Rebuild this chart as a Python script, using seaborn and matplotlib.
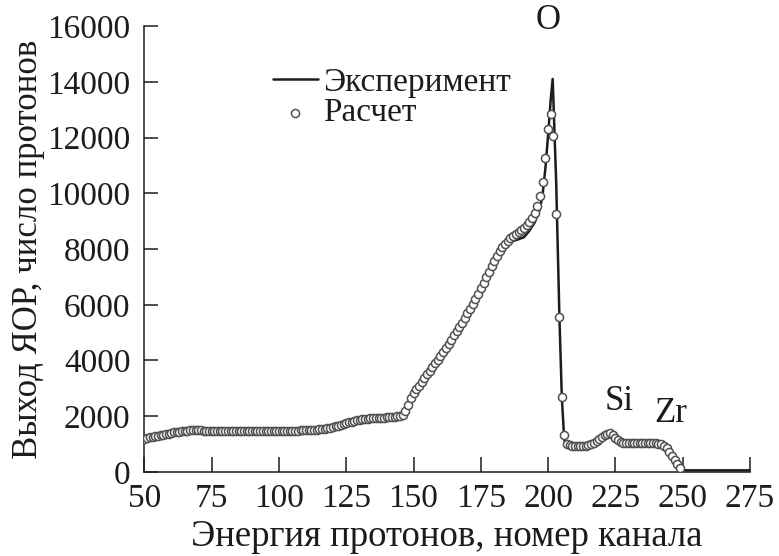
import matplotlib
matplotlib.use("Agg")
import matplotlib.pyplot as plt
import seaborn as sns
import pandas as pd

# ---------------- data ----------------
exp_channel = [50, 55, 60, 65, 70, 80, 90, 100, 110, 114, 115, 118, 120, 125, 130,
               135, 140, 142, 143, 145, 146, 148, 150, 153, 156, 160, 165, 170,
               175, 180, 183, 186, 189, 191, 193, 195, 197, 198, 199, 200, 201,
               201.7, 203, 204.2, 205.1, 206, 207, 212, 216, 219, 221, 223, 225,
               227, 230, 240, 242, 244, 246, 248, 249.5, 251, 275]
exp_yield = [1170, 1270, 1370, 1440, 1470, 1460, 1470, 1450, 1480, 1560, 1520,
             1580, 1610, 1720, 1850, 1900, 1940, 2050, 2000, 2100, 2000, 2250,
             2900, 3300, 3750, 4250, 4950, 5700, 6600, 7550, 8000, 8250, 8350,
             8420, 8650, 8950, 9450, 10000, 10900, 12100, 13400, 14100, 10400,
             5570, 2670, 1150, 950, 940, 980, 1150, 1300, 1370, 1200, 1050, 1030,
             1040, 1000, 880, 600, 250, 80, 60, 60]

calc_channel = list(range(50, 250))
calc_yield = [
    # 50-59
    1200, 1220, 1240, 1260, 1280, 1300, 1320, 1340, 1360, 1380,
    # 60-69
    1400, 1420, 1440, 1450, 1460, 1470, 1480, 1490, 1490, 1490,
    # 70-79
    1490, 1490, 1485, 1480, 1480, 1480, 1475, 1475, 1470, 1470,
    # 80-89
    1470, 1470, 1470, 1470, 1470, 1470, 1470, 1470, 1470, 1470,
    # 90-99
    1470, 1470, 1470, 1465, 1465, 1465, 1465, 1460, 1460, 1460,
    # 100-109
    1460, 1460, 1460, 1465, 1470, 1475, 1480, 1485, 1490, 1495,
    # 110-119
    1500, 1505, 1510, 1515, 1520, 1530, 1540, 1555, 1570, 1590,
    # 120-129
    1610, 1635, 1660, 1690, 1720, 1750, 1780, 1810, 1835, 1860,
    # 130-139
    1875, 1890, 1900, 1910, 1920, 1925, 1930, 1935, 1940, 1950,
    # 140-149
    1960, 1970, 1980, 1990, 2000, 2010, 2050, 2200, 2420, 2650,
    # 150-159
    2850, 2980, 3100, 3230, 3360, 3500, 3640, 3780, 3900, 4020,
    # 160-169
    4160, 4300, 4450, 4600, 4750, 4900, 5050, 5200, 5360, 5520,
    # 170-179
    5690, 5860, 6040, 6220, 6400, 6590, 6790, 6990, 7190, 7390,
    # 180-189
    7580, 7760, 7920, 8060, 8180, 8290, 8380, 8460, 8530, 8600,
    # 190-199
    8680, 8760, 8860, 8980, 9120, 9300, 9550, 9900, 10400, 11250,
    # 200-209
    12300, 12850, 12050, 9270, 5570, 2700, 1320, 1000, 960, 950,
    # 210-219
    940, 940, 940, 940, 950, 960, 990, 1040, 1110, 1190,
    # 220-229
    1270, 1340, 1380, 1390, 1330, 1230, 1130, 1070, 1040, 1030,
    # 230-239
    1030, 1030, 1030, 1030, 1040, 1040, 1050, 1050, 1050, 1050,
    # 240-249
    1040, 1020, 990, 940, 850, 720, 570, 420, 270, 130,
]

x_ticks = [50, 75, 100, 125, 150, 175, 200, 225, 250, 275]
y_ticks = [0, 2000, 4000, 6000, 8000, 10000, 12000, 14000, 16000]

peak_labels = ["O", "Si", "Zr"]
peak_label_x = [200.0, 226.4, 245.7]
peak_label_y = [16214, 2540, 2110]

# ---------------- plotting ----------------
sns.set_theme(style="ticks")
plt.rcParams["font.family"] = ["Liberation Serif", "DejaVu Serif"]
ink = "#1c1c1c"
fs_tick = 24
fs_text = 25

exp_df = pd.DataFrame({"channel": exp_channel, "yield": exp_yield})
calc_df = pd.DataFrame({"channel": calc_channel, "yield": calc_yield})

fig = plt.figure(figsize=(7.79, 5.56), dpi=100)
ax = fig.add_axes([0.1854, 0.1511, 0.7773, 0.8021])

sns.lineplot(data=exp_df, x="channel", y="yield", ax=ax, color=ink, lw=1.8,
             sort=False, estimator=None, label="Эксперимент", zorder=2)
sns.scatterplot(data=calc_df, x="channel", y="yield", ax=ax, marker="o", s=34,
                facecolor="white", edgecolor="#505050", linewidth=1.1,
                label="Расчет", zorder=3)

ax.set_xlim(50, 275)
ax.set_ylim(0, 16000)
ax.set_xticks(x_ticks)
ax.set_yticks(y_ticks)
ax.tick_params(axis="both", direction="in", width=1.1, color=ink,
               labelsize=fs_tick, labelcolor=ink)
ax.tick_params(axis="x", length=11, pad=8)
ax.tick_params(axis="y", length=10, pad=10)
sns.despine(ax=ax)
for sp in ("left", "bottom"):
    ax.spines[sp].set_linewidth(1.1)
    ax.spines[sp].set_color(ink)

ax.set_xlabel("Энергия протонов, номер канала", fontsize=26.5, color=ink,
              labelpad=4)
ax.set_ylabel("Выход ЯОР, число протонов", fontsize=fs_text, color=ink,
              labelpad=2)

for t, px, py in zip(peak_labels, peak_label_x, peak_label_y):
    ax.text(px, py, t, ha="center", va="center", fontsize=fs_text, color=ink,
            clip_on=False)

leg = ax.legend(loc="upper left", bbox_to_anchor=(0.212, 0.907), frameon=False,
                fontsize=24, handlelength=1.35, handletextpad=0.15,
                labelspacing=0.0, borderpad=0, borderaxespad=0,
                markerscale=1.0)
for txt in leg.get_texts():
    txt.set_color(ink)

fig.savefig("out.png", dpi=100)
